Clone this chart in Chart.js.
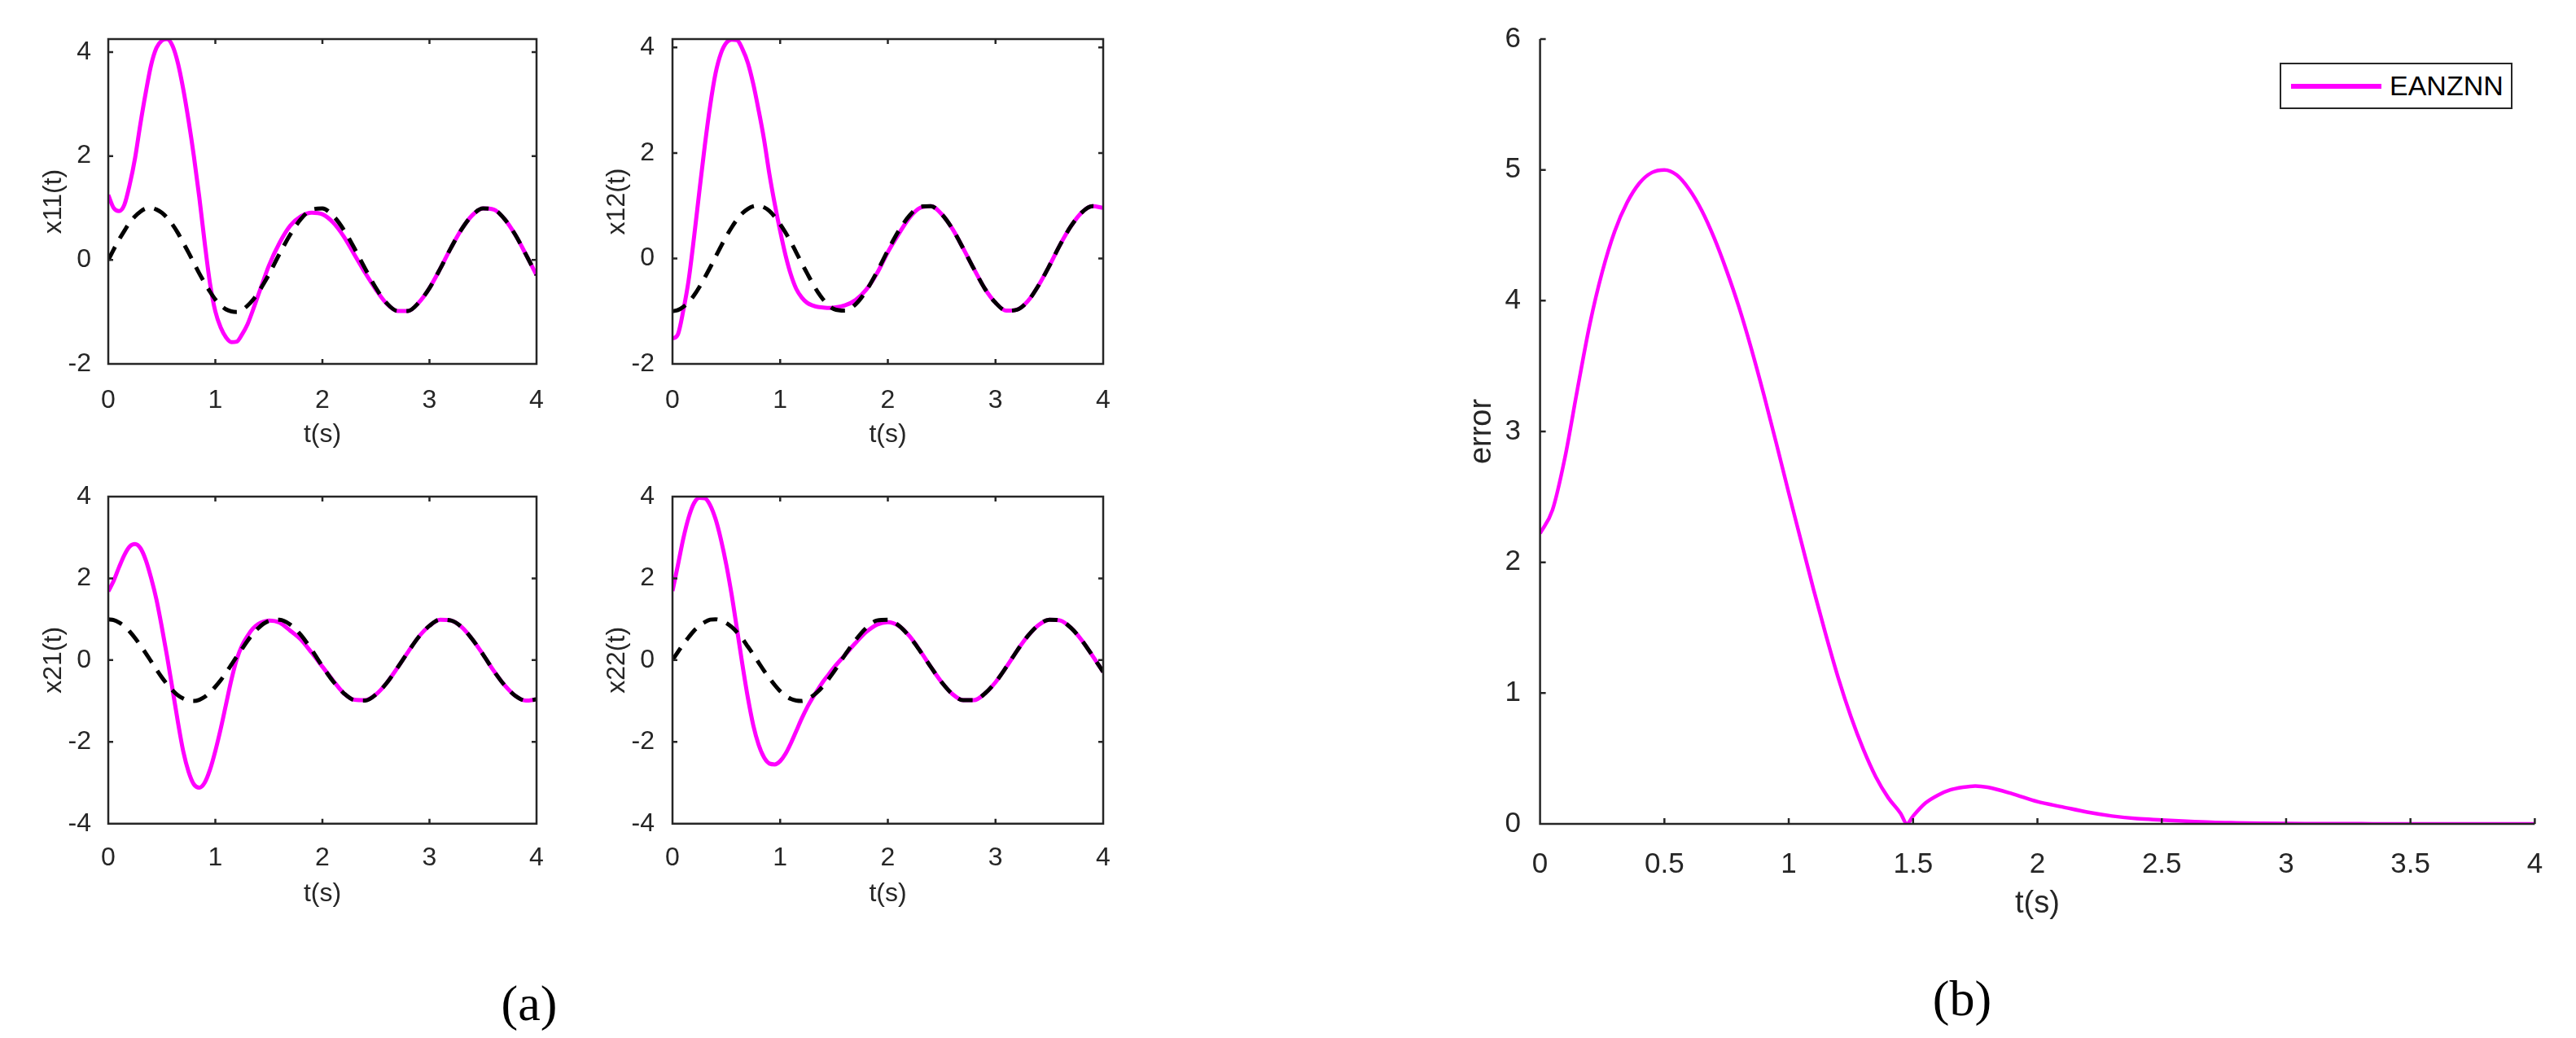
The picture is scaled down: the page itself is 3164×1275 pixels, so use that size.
<!DOCTYPE html>
<html>
<head>
<meta charset="utf-8">
<title>EANZNN state trajectories and error</title>
<script src="https://cdn.jsdelivr.net/npm/chart.js@4.4.0/dist/chart.umd.min.js"></script>
<style>
  html, body { margin: 0; padding: 0; background: #fff; }
  body { position: relative; width: 3164px; height: 1275px; overflow: hidden;
         font-family: "Liberation Sans", Arial, Helvetica, sans-serif; }
  canvas { position: absolute; }
  .tag { position: absolute; font-family: "Liberation Serif", "Times New Roman", serif;
         font-size: 62px; line-height: 1; color: #000; transform: translate(-50%, -50%); }
  #legend { position: absolute; left: 2800px; top: 77px; width: 282px; height: 53px;
            border: 2px solid #262626; background: #fff; }
  #legend .swatch { position: absolute; left: 12px; top: 24px; width: 111px; height: 6px; background: #ff00ff; }
  #legend .txt { position: absolute; left: 133px; top: 0; line-height: 53px; font-size: 34px; color: #000; }
</style>
</head>
<body>
<canvas id="c11" width="700" height="580" style="left:0;top:0"></canvas>
<canvas id="c12" width="700" height="580" style="left:700px;top:0"></canvas>
<canvas id="c21" width="700" height="580" style="left:0;top:560px"></canvas>
<canvas id="c22" width="700" height="580" style="left:700px;top:560px"></canvas>
<canvas id="cErr" width="1414" height="1275" style="left:1750px;top:0"></canvas>
<div id="legend"><span class="swatch"></span><span class="txt" id="legendText"></span></div>
<div class="tag" style="left:650px;top:1232px">(a)</div>
<div class="tag" style="left:2410px;top:1226px">(b)</div>

<script>
// sample times for the four state plots (finer where the transient is sharp)
const timeA = [0, 0.05, 0.1, 0.15, 0.2, 0.25, 0.3, 0.35, 0.4, 0.45, 0.5, 0.55, 0.6, 0.65, 0.7, 0.75,
  0.8, 0.85, 0.9, 0.95, 1, 1.05, 1.1, 1.15, 1.2, 1.25, 1.3, 1.35, 1.4, 1.45, 1.5,
  1.6, 1.7, 1.8, 1.9, 2, 2.1, 2.2, 2.3, 2.4, 2.5, 2.6, 2.7, 2.8, 2.9, 3, 3.1, 3.2, 3.3,
  3.4, 3.5, 3.6, 3.7, 3.8, 3.9, 4];

// EANZNN solutions (magenta)
const x11 = [1.25, 1.00, 0.94, 1.06, 1.45, 1.96, 2.62, 3.22, 3.75, 4.08, 4.22, 4.25, 4.12, 3.79, 3.29, 2.68,
  1.99, 1.21, 0.34, -0.45, -0.99, -1.30, -1.49, -1.58, -1.57, -1.43, -1.24, -0.97, -0.68, -0.39, -0.11,
  0.33, 0.66, 0.84, 0.91, 0.88, 0.72, 0.45, 0.10, -0.25, -0.57, -0.84, -0.98, -0.98, -0.82, -0.54, -0.17,
  0.23, 0.59, 0.86, 0.99, 0.97, 0.79, 0.49, 0.11, -0.29];
const x12 = [-1.52, -1.44, -0.99, -0.41, 0.40, 1.28, 2.14, 2.90, 3.51, 3.89, 4.09, 4.15, 4.14, 3.97, 3.71, 3.31,
  2.81, 2.26, 1.60, 1.03, 0.52, 0.06, -0.31, -0.58, -0.74, -0.84, -0.89, -0.92, -0.93, -0.94, -0.93,
  -0.89, -0.79, -0.59, -0.28, 0.12, 0.46, 0.77, 0.96, 0.99, 0.84, 0.56, 0.19, -0.20, -0.57, -0.84, -0.99,
  -0.97, -0.81, -0.51, -0.14, 0.26, 0.61, 0.87, 0.99, 0.96];
const x21 = [1.68, 1.94, 2.27, 2.57, 2.78, 2.84, 2.74, 2.45, 2.01, 1.48, 0.81, 0.08, -0.71, -1.51, -2.23, -2.73,
  -3.04, -3.12, -3.00, -2.68, -2.22, -1.68, -1.08, -0.48, 0.02, 0.36, 0.59, 0.77, 0.88, 0.94, 0.97,
  0.92, 0.72, 0.50, 0.18, -0.16, -0.50, -0.81, -0.97, -0.98, -0.84, -0.56, -0.19, 0.20, 0.57, 0.84, 0.99,
  0.97, 0.81, 0.51, 0.14, -0.26, -0.61, -0.87, -0.99, -0.96];
const x22 = [1.69, 2.32, 2.97, 3.49, 3.84, 3.97, 3.96, 3.79, 3.45, 2.95, 2.33, 1.59, 0.74, -0.12, -0.92, -1.59,
  -2.07, -2.38, -2.53, -2.55, -2.47, -2.29, -2.03, -1.73, -1.43, -1.16, -0.93, -0.72, -0.52, -0.35, -0.18,
  0.12, 0.42, 0.69, 0.87, 0.93, 0.84, 0.59, 0.23, -0.17, -0.54, -0.83, -0.98, -0.98, -0.82, -0.54, -0.17,
  0.23, 0.59, 0.86, 0.99, 0.97, 0.79, 0.49, 0.11, -0.29];

// theoretical solutions (black dashed)
const ref11 = [0, 0.20, 0.39, 0.56, 0.72, 0.84, 0.93, 0.99, 1.00, 0.97, 0.91, 0.81, 0.68, 0.52, 0.33, 0.14,
  -0.06, -0.26, -0.44, -0.61, -0.76, -0.87, -0.95, -0.99, -1.00, -0.96, -0.88, -0.77, -0.63, -0.46, -0.28,
  0.12, 0.49, 0.79, 0.97, 0.99, 0.85, 0.58, 0.22, -0.17, -0.54, -0.83, -0.98, -0.98, -0.82, -0.54, -0.17,
  0.23, 0.59, 0.86, 0.99, 0.97, 0.79, 0.49, 0.11, -0.29];
const ref12 = [-1.00, -0.98, -0.92, -0.83, -0.70, -0.54, -0.36, -0.17, 0.03, 0.23, 0.42, 0.59, 0.74, 0.86, 0.94, 0.99,
  1.00, 0.97, 0.90, 0.79, 0.65, 0.49, 0.31, 0.11, -0.09, -0.28, -0.47, -0.64, -0.78, -0.89, -0.96,
  -0.99, -0.87, -0.61, -0.25, 0.15, 0.52, 0.81, 0.98, 0.99, 0.84, 0.56, 0.19, -0.20, -0.57, -0.84, -0.99,
  -0.97, -0.81, -0.51, -0.14, 0.26, 0.61, 0.87, 0.99, 0.96];
const ref21 = [1.00, 0.98, 0.92, 0.83, 0.70, 0.54, 0.36, 0.17, -0.03, -0.23, -0.42, -0.59, -0.74, -0.86, -0.94, -0.99,
  -1.00, -0.97, -0.90, -0.79, -0.65, -0.49, -0.31, -0.11, 0.09, 0.28, 0.47, 0.64, 0.78, 0.89, 0.96,
  0.99, 0.87, 0.61, 0.25, -0.15, -0.52, -0.81, -0.98, -0.99, -0.84, -0.56, -0.19, 0.20, 0.57, 0.84, 0.99,
  0.97, 0.81, 0.51, 0.14, -0.26, -0.61, -0.87, -0.99, -0.96];
const ref22 = [0, 0.20, 0.39, 0.56, 0.72, 0.84, 0.93, 0.99, 1.00, 0.97, 0.91, 0.81, 0.68, 0.52, 0.33, 0.14,
  -0.06, -0.26, -0.44, -0.61, -0.76, -0.87, -0.95, -0.99, -1.00, -0.96, -0.88, -0.77, -0.63, -0.46, -0.28,
  0.12, 0.49, 0.79, 0.97, 0.99, 0.85, 0.58, 0.22, -0.17, -0.54, -0.83, -0.98, -0.98, -0.82, -0.54, -0.17,
  0.23, 0.59, 0.86, 0.99, 0.97, 0.79, 0.49, 0.11, -0.29];

// residual error (panel b)
const errTime = [0, 0.05, 0.1, 0.15, 0.2, 0.25, 0.3, 0.35, 0.4, 0.45, 0.5, 0.55, 0.6, 0.65, 0.7, 0.75,
  0.8, 0.85, 0.9, 0.95, 1, 1.05, 1.1, 1.15, 1.2, 1.25, 1.3, 1.35, 1.4, 1.45, 1.475, 1.5, 1.55, 1.6,
  1.65, 1.7, 1.75, 1.8, 1.9, 2, 2.1, 2.2, 2.3, 2.4, 2.5, 2.6, 2.7, 2.8, 2.9, 3, 3.1, 3.2, 3.3, 3.4,
  3.5, 3.6, 3.7, 3.8, 3.9, 4];
const errValues = [2.22, 2.40, 2.80, 3.32, 3.82, 4.22, 4.53, 4.75, 4.90, 4.98, 5.00, 4.96, 4.85, 4.69, 4.48, 4.23,
  3.95, 3.63, 3.28, 2.91, 2.53, 2.16, 1.79, 1.44, 1.11, 0.82, 0.57, 0.36, 0.20, 0.08, 0.00, 0.06, 0.16, 0.22,
  0.26, 0.28, 0.29, 0.28, 0.23, 0.17, 0.13, 0.09, 0.06, 0.04, 0.03, 0.02, 0.012, 0.008, 0.005, 0.003, 0.002,
  0.001, 0.001, 0, 0, 0, 0, 0, 0, 0];
const errLabel = 'EANZNN';

// tick labels
const subTicksX = [0, 1, 2, 3, 4];
const ticksTop = [-2, 0, 2, 4];
const ticksBottom = [-4, -2, 0, 2, 4];
const errTicksX = [0, 0.5, 1, 1.5, 2, 2.5, 3, 3.5, 4];
const errTicksY = [0, 1, 2, 3, 4, 5, 6];

const axisColor = '#262626';
const family = '"Liberation Sans", Arial, Helvetica, sans-serif';
const pts = (ts, vs) => ts.map((t, i) => ({ x: t, y: vs[i] }));

// MATLAB-style frame: axis lines plus inward ticks
const frame = {
  id: 'frame',
  afterDatasetsDraw(chart, args, opts) {
    const { ctx, chartArea: a } = chart;
    const { x, y } = chart.scales;
    const L = opts.tick;
    ctx.save();
    ctx.strokeStyle = axisColor;
    ctx.lineWidth = opts.width;
    ctx.beginPath();
    if (opts.box) {
      ctx.rect(a.left, a.top, a.right - a.left, a.bottom - a.top);
    } else {
      ctx.moveTo(a.left, a.top);
      ctx.lineTo(a.left, a.bottom);
      ctx.lineTo(a.right, a.bottom);
    }
    x.ticks.forEach(t => {
      const px = x.getPixelForValue(t.value);
      ctx.moveTo(px, a.bottom); ctx.lineTo(px, a.bottom - L);
      if (opts.box) { ctx.moveTo(px, a.top); ctx.lineTo(px, a.top + L); }
    });
    y.ticks.forEach(t => {
      const py = y.getPixelForValue(t.value);
      ctx.moveTo(a.left, py); ctx.lineTo(a.left + L, py);
      if (opts.box) { ctx.moveTo(a.right, py); ctx.lineTo(a.right - L, py); }
    });
    ctx.stroke();
    ctx.restore();
  }
};

function subplot(id, yName, yMin, yMax, yTicks, est, ref, lay) {
  const font = { family: family, size: 32 };
  return new Chart(document.getElementById(id), {
    type: 'line',
    data: {
      datasets: [
        { label: 'reference', data: pts(timeA, ref), borderColor: '#000000', borderWidth: 5, borderDash: [18, 12] },
        { label: errLabel, data: pts(timeA, est), borderColor: '#ff00ff', borderWidth: 5 }
      ]
    },
    options: {
      responsive: false,
      animation: false,
      events: [],
      layout: { padding: { top: lay.top, right: lay.right, bottom: 0, left: 0 } },
      elements: { point: { radius: 0 }, line: { cubicInterpolationMode: 'monotone' } },
      plugins: { legend: { display: false }, tooltip: { enabled: false }, frame: { box: true, tick: 6, width: 2.5 } },
      scales: {
        x: {
          type: 'linear', min: 0, max: 4,
          grid: { display: false }, border: { display: false },
          afterBuildTicks: s => { s.ticks = subTicksX.map(v => ({ value: v })); },
          afterFit: s => { s.height = lay.xh; },
          ticks: { color: axisColor, font: font, padding: lay.xTickPad, maxRotation: 0, autoSkip: false, callback: v => String(v) },
          title: { display: true, text: 't(s)', color: axisColor, font: font, padding: { top: 0, bottom: lay.xTitlePad } }
        },
        y: {
          type: 'linear', min: yMin, max: yMax,
          grid: { display: false }, border: { display: false },
          afterBuildTicks: s => { s.ticks = yTicks.map(v => ({ value: v })); },
          afterFit: s => { s.width = lay.yw; },
          ticks: { color: axisColor, font: font, padding: lay.yTickPad, autoSkip: false, callback: v => String(v) },
          title: { display: true, text: yName, color: axisColor, font: font, padding: { top: lay.yTitlePad, bottom: 0 } }
        }
      }
    },
    plugins: [frame]
  });
}

const layTopL = { top: 48, right: 41, yw: 133, xh: 133, xTickPad: 18, xTitlePad: 27, yTickPad: 13, yTitlePad: 47 };
const layTopR = { top: 48, right: 45, yw: 126, xh: 133, xTickPad: 18, xTitlePad: 27, yTickPad: 14, yTitlePad: 39 };
const layBotL = { top: 50, right: 41, yw: 133, xh: 128.3, xTickPad: 15.6, xTitlePad: 22.8, yTickPad: 13, yTitlePad: 47 };
const layBotR = { top: 50, right: 45, yw: 126, xh: 128.3, xTickPad: 15.6, xTitlePad: 22.8, yTickPad: 14, yTitlePad: 39 };

subplot('c11', 'x11(t)', -2, 4.25, ticksTop, x11, ref11, layTopL);
subplot('c12', 'x12(t)', -2, 4.16, ticksTop, x12, ref12, layTopR);
subplot('c21', 'x21(t)', -4, 4, ticksBottom, x21, ref21, layBotL);
subplot('c22', 'x22(t)', -4, 4, ticksBottom, x22, ref22, layBotR);

// panel (b): error norm
const tickFont = { family: family, size: 35 };
const titleFont = { family: family, size: 38 };
const errChart = new Chart(document.getElementById('cErr'), {
  type: 'line',
  data: {
    datasets: [{ label: errLabel, data: pts(errTime, errValues), borderColor: '#ff00ff', borderWidth: 4.5 }]
  },
  options: {
    responsive: false,
    animation: false,
    events: [],
    layout: { padding: { top: 48, right: 50.6, bottom: 0, left: 0 } },
    elements: { point: { radius: 0 }, line: { cubicInterpolationMode: 'monotone' } },
    plugins: { legend: { display: false }, tooltip: { enabled: false }, frame: { box: false, tick: 7, width: 2.5 } },
    scales: {
      x: {
        type: 'linear', min: 0, max: 4,
        grid: { display: false }, border: { display: false },
        afterBuildTicks: s => { s.ticks = errTicksX.map(v => ({ value: v })); },
        afterFit: s => { s.height = 263; },
        ticks: { color: axisColor, font: tickFont, padding: 21, maxRotation: 0, autoSkip: false, callback: v => String(v) },
        title: { display: true, text: 't(s)', color: axisColor, font: titleFont, padding: { top: 0, bottom: 142 } }
      },
      y: {
        type: 'linear', min: 0, max: 6,
        grid: { display: false }, border: { display: false },
        afterBuildTicks: s => { s.ticks = errTicksY.map(v => ({ value: v })); },
        afterFit: s => { s.width = 141.6; },
        ticks: { color: axisColor, font: tickFont, padding: 15.6, autoSkip: false, callback: v => String(v) },
        title: { display: true, text: 'error', color: axisColor, font: titleFont, padding: { top: 48, bottom: 0 } }
      }
    }
  },
  plugins: [frame]
});

document.getElementById('legendText').textContent = errChart.data.datasets[0].label;
</script>
</body>
</html>
